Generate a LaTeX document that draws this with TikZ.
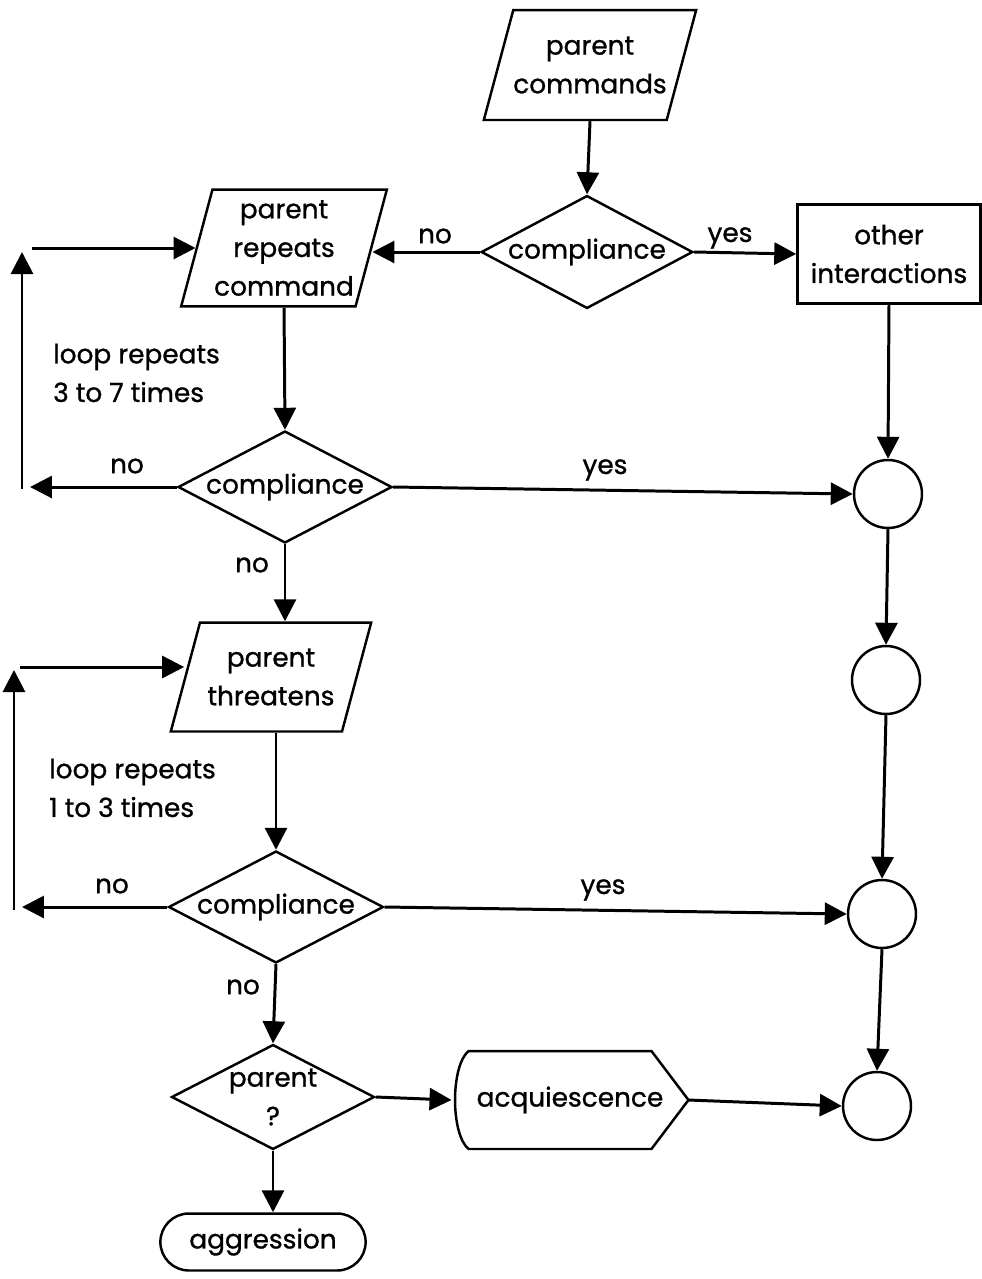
\documentclass[tikz,border=0pt]{standalone}
\usepackage{fontspec}
\setmainfont{Poppins}[FakeBold=1]
\usetikzlibrary{shapes.geometric, shapes.misc, arrows.meta, calc}

\begin{document}
\begin{tikzpicture}[x=0.02cm, y=-0.02cm, line width=1.7pt,
   >={Triangle[length=0.44cm, width=0.44cm]},
   every node/.style={font=\fontsize{15}{22}\selectfont, align=center},
   io/.style={trapezium, trapezium left angle=75, trapezium right angle=105,
              draw, line width=1.4pt},
   test/.style={diamond, draw, aspect=2, inner sep=0pt, line width=1.4pt},
   junction/.style={circle, draw, line width=1.4pt, minimum size=1.36cm},
   lbl/.style={inner sep=1pt}]
   \useasboundingbox (0,0) rectangle (982,1279);

   % main column
   \node[io, inner xsep=0pt, inner ysep=0.53cm] (cmd) at (590,65) {parent\\commands};
   \node[test, minimum width=4.2cm, minimum height=2.26cm] (c1) at (587,252) {compliance};
   \node[io, inner xsep=1pt, inner ysep=0.21cm] (rep) at (284,248) {parent\\repeats\\command};
   \node[draw, line width=1.4pt, minimum width=3.66cm, minimum height=1.98cm] (other) at (889,254) {other\\interactions};
   \node[test, minimum width=4.28cm, minimum height=2.24cm] (c2) at (285,487) {compliance};
   \node[io, inner xsep=0.15cm, inner ysep=0.52cm] (thr) at (271,677) {parent\\threatens};
   \node[test, minimum width=4.3cm, minimum height=2.24cm] (c3) at (276,907) {compliance};
   \node[test, minimum width=4.06cm, minimum height=2.1cm] (par) at (273,1097) {parent\\?};
   \node[minimum width=4.68cm, minimum height=1.9cm] (acq) at (570,1100) {acquiescence};
   \node[rounded rectangle, draw, line width=1.4pt, minimum width=4.34cm, minimum height=1.14cm] (agg) at (263,1242) {aggression};

   % right column
   \node[junction] (o1) at (888,494) {};
   \node[junction] (o2) at (886,680) {};
   \node[junction] (o3) at (882,914) {};
   \node[junction] (o4) at (877,1106) {};

   % acquiescence outline
   \draw[line width=1.4pt] ($(acq.north west)+(17,0)$) -- ($(acq.north east)+(-37,0)$)
      -- (acq.east) -- ($(acq.south east)+(-37,0)$) -- ($(acq.south west)+(17,0)$)
      .. controls ($(acq.south west)+(-1,-15)$) and ($(acq.north west)+(-1,15)$) .. cycle;

   % loop corners
   \coordinate (l1a) at (30,487);
   \coordinate (l1b) at (22,489);
   \coordinate (l1c) at (22,252);
   \coordinate (l1d) at (32,248);
   \coordinate (l2a) at (22,907);
   \coordinate (l2b) at (14,910);
   \coordinate (l2c) at (14,670);
   \coordinate (l2d) at (20,667);

   \draw[->] (cmd.south) -- (c1.north);
   \draw[->] (c1.west) -- (c1.west -| rep.east);
   \draw[->] (c1.east) -- (other.west);
   \draw[->] (other.south) -- (o1.north);
   \draw[->] (rep.south) -- (c2.north);
   \draw[->] (c2.west) -- (l1a);
   \draw[->] (l1b) -- (l1c);
   \draw[->] (l1d) -- (l1d -| rep.west);
   \draw[->] (c2.east) -- (o1.west);
   \draw[->] (c2.south) -- (c2.south |- thr.north);
   \draw[->] (c3.north |- thr.south) -- (c3.north);
   \draw[->] (c3.west) -- (l2a);
   \draw[->] (l2b) -- (l2c);
   \draw[->] (l2d) -- (l2d -| thr.west);
   \draw[->] (c3.east) -- (o3.west);
   \draw[->] (c3.south) -- (par.north);
   \draw[->] (par.east) -- (acq.west);
   \draw[->] (par.south) -- (par.south |- agg.north);
   \draw[->] (acq.east) -- (o4.west);
   \draw[->] (o1.south) -- (o2.north);
   \draw[->] (o2.south) -- (o3.north);
   \draw[->] (o3.south) -- (o4.north);

   % labels
   \node[lbl] (no1) at (435,236) {no};
   \node[lbl] (yes1) at (730,238) {yes};
   \node[lbl] (no2) at (127,466) {no};
   \node[lbl] (yes2) at (605,470) {yes};
   \node[lbl] (no3) at (252,565) {no};
   \node[lbl] (no4) at (112,886) {no};
   \node[lbl] (yes3) at (603,890) {yes};
   \node[lbl] (no5) at (243,987) {no};
   \node[lbl, anchor=west, align=left] (loop1) at (50,373) {loop repeats\\3 to 7 times};
   \node[lbl, anchor=west, align=left] (loop2) at (46,788) {loop repeats\\1 to 3 times};
\end{tikzpicture}
\end{document}
